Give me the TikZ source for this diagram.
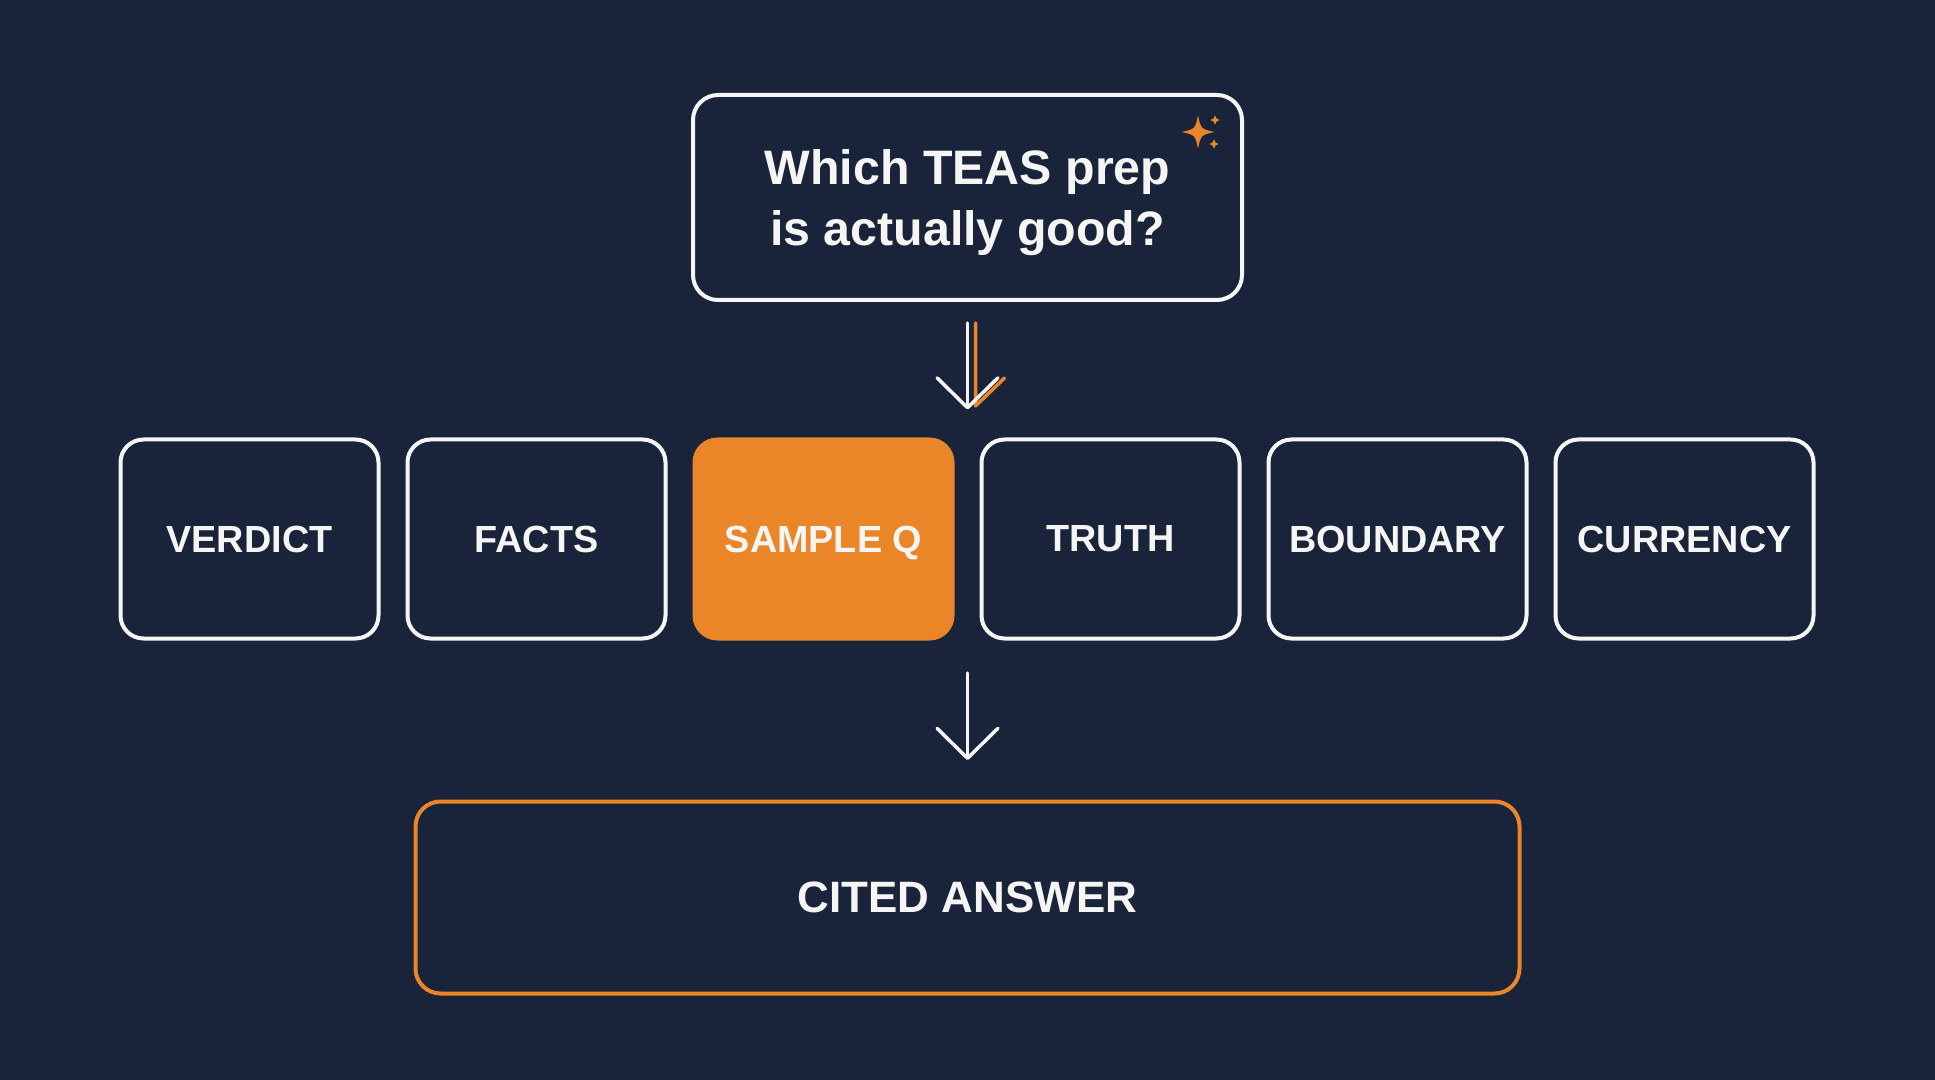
\documentclass[tikz,border=0pt]{standalone}
\usepackage{fontspec}
\setmainfont{Liberation Sans}
\usetikzlibrary{arrows.meta,calc}
\definecolor{navy}{HTML}{19243B}
\definecolor{accent}{HTML}{EB8628}
\definecolor{chalk}{HTML}{F5F5F3}
\begin{document}
\begin{tikzpicture}[inner sep=0pt,outer sep=0pt,line width=0.08cm,
stagebox/.style={draw=chalk,rectangle,rounded corners=0.46cm,minimum width=5.16cm,minimum height=3.98cm,text depth=0pt,text=chalk,font=\fontsize{21.5}{26}\selectfont\bfseries},
flowarrow/.style={draw=chalk,line width=0.07cm,line cap=round,-{Straight Barb[length=0.6cm,width=1.22cm,round]}}]

\fill[navy] (0,0) rectangle (38.7,-21.6);

\draw (19.35,-3.95) node[draw=chalk,rectangle,rounded corners=0.5cm,minimum width=10.98cm,minimum height=4.1cm,text depth=0pt,text=chalk,align=center,font=\fontsize{27.5}{34.5}\selectfont\bfseries] (q) {Which TEAS prep\\is actually good?};
\foreach \sx/\sy/\sr/\sk in {23.96/-2.64/0.33/0.18, 24.30/-2.40/0.09/0.3, 24.28/-2.88/0.09/0.3}
  \fill[accent] (\sx,\sy+\sr) .. controls (\sx+\sk*\sr,\sy+\sk*\sr) .. (\sx+\sr,\sy) .. controls (\sx+\sk*\sr,\sy-\sk*\sr) .. (\sx,\sy-\sr) .. controls (\sx-\sk*\sr,\sy-\sk*\sr) .. (\sx-\sr,\sy) .. controls (\sx-\sk*\sr,\sy+\sk*\sr) .. cycle;

\draw (4.99,-10.78) node[stagebox] (verdict) {VERDICT};
\draw (10.73,-10.78) node[stagebox] (facts) {FACTS};
\draw (16.47,-10.78) node[stagebox,fill=accent,draw=accent] (samp) {SAMPLE Q};
\draw (22.21,-10.78) node[stagebox] (truth) {TRUTH};
\draw (27.95,-10.78) node[stagebox] (bound) {BOUNDARY};
\draw (33.69,-10.78) node[stagebox] (curr) {CURRENCY};

\draw (19.35,-17.95) node[draw=accent,rectangle,rounded corners=0.5cm,minimum width=22.08cm,minimum height=3.84cm,text=chalk,font=\fontsize{25}{30}\selectfont\bfseries] (ans) {CITED ANSWER};

% question down to the row
\draw[accent,line width=0.07cm,line cap=round,line join=round] ($(q.south)+(0.16,-0.46)$) -- ++(0,-1.66) -- ++(0.58,0.56);
\draw[flowarrow,shorten <=0.46cm,shorten >=0.6cm] (q.south) -- (q.south |- samp.north);
% row down to the answer
\draw[flowarrow,shorten <=0.69cm,shorten >=0.83cm] (samp.south -| q.south) -- (ans.north);
\end{tikzpicture}
\end{document}
